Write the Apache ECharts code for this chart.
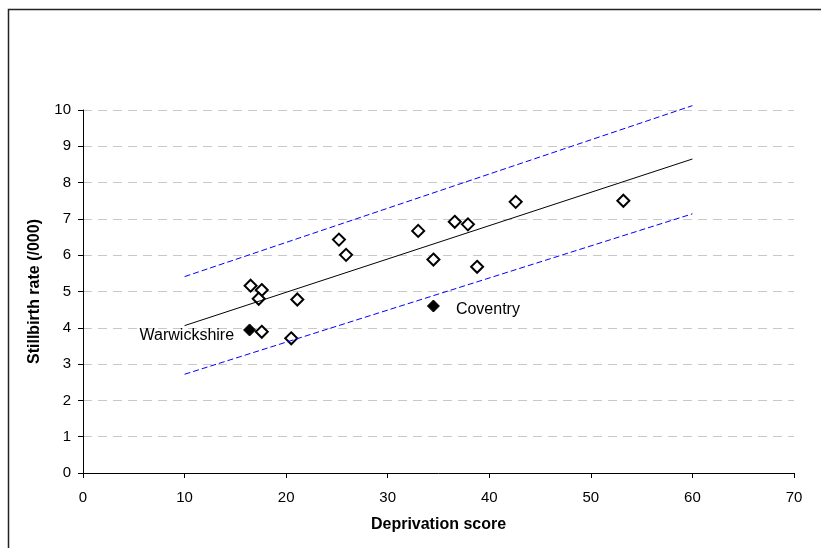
<!DOCTYPE html>
<html>
<head>
<meta charset="utf-8">
<script src="https://cdn.jsdelivr.net/npm/echarts@6/dist/echarts.min.js"></script>
<style>html,body{margin:0;padding:0;background:#fff;}#chart{width:821px;height:548px;}</style>
</head>
<body>
<div id="chart"></div>
<script>
// Open diamonds: [deprivation score, stillbirth rate]
const otherAreas = [
  [16.5, 5.16], [17.6, 5.04], [17.3, 4.80], [17.6, 3.89], [20.5, 3.71],
  [21.1, 4.78], [25.2, 6.43], [25.9, 6.01], [33.0, 6.67], [34.5, 5.88],
  [36.6, 6.92], [37.9, 6.85], [38.8, 5.68], [42.6, 7.47], [53.2, 7.50]
];
const highlightNames = ['Warwickshire', 'Coventry'];
const highlightValues = [[16.4, 3.94], [34.5, 4.60]];
const trendLine = [[10, 4.06], [60, 8.65]];
const upperLimit = [[10, 5.41], [60, 10.12]];
const lowerLimit = [[10, 2.72], [60, 7.14]];
const xTicks = { min: 0, max: 70, interval: 10 };
const yTicks = { min: 0, max: 10, interval: 1 };

const chart = echarts.init(document.getElementById('chart'), null, { renderer: 'canvas' });
const font = 'Liberation Sans, Arial, sans-serif';
chart.setOption({
  animation: false,
  backgroundColor: '#fff',
  graphic: [{
    type: 'rect', left: 6, top: 7, silent: true,
    shape: { width: 830, height: 560 },
    style: { fill: 'none', stroke: '#222', lineWidth: 1.5 }
  }],
  grid: { left: 83, right: 27, top: 110, bottom: 75 },
  xAxis: {
    type: 'value', min: xTicks.min, max: xTicks.max, interval: xTicks.interval,
    name: 'Deprivation score', nameLocation: 'middle', nameGap: 44,
    nameTextStyle: { fontFamily: font, fontSize: 16, fontWeight: 'bold', color: '#000' },
    axisLine: { lineStyle: { color: '#000', width: 1 } },
    axisTick: { length: 5, lineStyle: { color: '#000' } },
    axisLabel: { fontFamily: font, fontSize: 15, color: '#000', margin: 17 },
    splitLine: { show: false }
  },
  yAxis: {
    type: 'value', min: yTicks.min, max: yTicks.max, interval: yTicks.interval,
    name: 'Stillbirth rate (/000)', nameLocation: 'middle', nameGap: 40,
    nameTextStyle: { fontFamily: font, fontSize: 16, fontWeight: 'bold', color: '#000' },
    axisLine: { show: true, lineStyle: { color: '#000', width: 1 } },
    axisTick: { show: true, length: 5, lineStyle: { color: '#000' } },
    axisLabel: { fontFamily: font, fontSize: 15, color: '#000', margin: 12 },
    splitLine: { show: true, lineStyle: { color: '#c8c8c8', type: [9, 6], width: 1 } }
  },
  series: [
    {
      type: 'line', data: upperLimit, symbol: 'none', silent: true, clip: false,
      lineStyle: { color: '#0000ff', width: 1, type: [6, 3] }
    },
    {
      type: 'line', data: lowerLimit, symbol: 'none', silent: true, clip: false,
      lineStyle: { color: '#0000ff', width: 1, type: [6, 3] }
    },
    {
      type: 'line', data: trendLine, symbol: 'none', silent: true, clip: false,
      lineStyle: { color: '#000', width: 1 }
    },
    {
      type: 'scatter', data: otherAreas, symbol: 'diamond', symbolSize: 12,
      itemStyle: { color: '#fff', borderColor: '#000', borderWidth: 2, opacity: 1 }
    },
    {
      type: 'scatter', symbol: 'diamond', symbolSize: 12,
      itemStyle: { color: '#000', borderColor: '#000', borderWidth: 1, opacity: 1 },
      data: highlightValues.map((v, i) => ({
        value: v, name: highlightNames[i],
        label: i === 0
          ? { show: true, position: 'left', distance: 9, offset: [0, 6], formatter: '{b}', fontFamily: font, fontSize: 16, color: '#000' }
          : { show: true, position: 'right', distance: 16, offset: [0, 4], formatter: '{b}', fontFamily: font, fontSize: 16, color: '#000' }
      }))
    }
  ]
});
</script>
</body>
</html>
